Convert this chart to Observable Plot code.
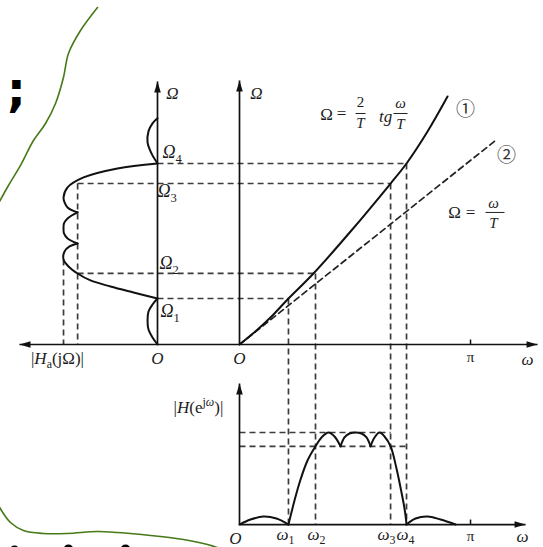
<!DOCTYPE html>
<html>
<head>
<meta charset="utf-8">
<script src="https://cdn.jsdelivr.net/npm/d3@7"></script>
<script src="https://cdn.jsdelivr.net/npm/@observablehq/plot@0.6"></script>
<style>
  html, body { margin: 0; padding: 0; background: #fff; overflow: hidden; }
  #chart svg { display: block; }
</style>
</head>
<body>
<div id="chart"></div>
<script>
const PI = Math.PI;

// Digital band edges ω1..ω4 (as fractions of π) and the prewarped analog edges Ω1..Ω4
const edgeNames = ["1", "2", "3", "4"];
const omegaEdges = [0.212, 0.329, 0.654, 0.723].map(f => f * PI);
const OmegaEdges = [0.785, 1.212, 2.747, 3.089];

// Passband ripple: peaks at 1, cusps at 1 − δ
const rippleTop = 1;
const rippleFloor = 0.85;
const OmegaFirstPeak = 1.451;

// Curve ①: Ω = (2/T)·tg(ω/2), samples (ω, Ω)
const warpW = [0, 0.231, 0.449, 0.666, 1.006, 1.510, 2.054, 2.271, 2.557, 2.829];
const warpOmega = [0, 0.239, 0.495, 0.785, 1.212, 1.928, 2.747, 3.089, 3.635, 4.232];

// Line ②: Ω = ω/T with T = 1, drawn up to this ω
const linearEnd = 3.495;

// Analog magnitude |Ha(jΩ)| as pieces between cusps: [Ω, |Ha|]
const analogPieces = [
  [[0, 0], [0.120, 0.053], [0.256, 0.096], [0.410, 0.106], [0.563, 0.096], [0.683, 0.053], [0.785, 0]],
  [[0.785, 0], [0.888, 0.255], [0.990, 0.500], [1.093, 0.713], [1.212, 0.85], [1.332, 0.947], [1.451, 1], [1.588, 0.989], [1.673, 0.936], [1.724, 0.85]],
  [[1.724, 0.85], [1.810, 0.957], [1.895, 0.995], [1.981, 1], [2.066, 0.995], [2.151, 0.957], [2.254, 0.85]],
  [[2.254, 0.85], [2.339, 0.957], [2.424, 0.989], [2.510, 1], [2.681, 0.957], [2.851, 0.787], [3.005, 0.426], [3.089, 0]],
  [[3.089, 0], [3.261, 0.064], [3.449, 0.106], [3.637, 0.096], [3.773, 0.053], [3.859, 0]]
];

// Digital magnitude |H(e^jω)| as pieces between cusps: [ω, |H|]
const digitalPieces = [
  [[0, 0], [0.150, 0.054], [0.326, 0.087], [0.503, 0.065], [0.666, 0]],
  [[0.666, 0], [0.748, 0.261], [0.830, 0.489], [0.925, 0.696], [1.034, 0.85], [1.115, 0.946], [1.210, 1], [1.292, 0.957], [1.374, 0.85]],
  [[1.374, 0.85], [1.428, 0.946], [1.496, 0.989], [1.578, 1], [1.659, 0.989], [1.727, 0.946], [1.782, 0.85]],
  [[1.782, 0.85], [1.836, 0.946], [1.904, 1], [1.972, 0.957], [2.055, 0.85], [2.135, 0.609], [2.203, 0.348], [2.244, 0.174], [2.271, 0]],
  [[2.271, 0], [2.394, 0.065], [2.557, 0.087], [2.734, 0.054], [2.938, 0]]
];

// Hand-drawn green strokes in the margins, (ω, Ω) plane
const inkTop = [[-1.931, 5.751], [-2.162, 5.358], [-2.326, 4.966], [-2.394, 4.556], [-2.502, 4.113], [-2.638, 3.771], [-2.802, 3.481], [-2.978, 3.055], [-3.142, 2.713], [-3.278, 2.406]];
const inkBottom = [[-3.278, -2.747], [-3.114, -3.038], [-2.938, -3.174], [-2.666, -3.225], [-2.339, -3.225], [-1.931, -3.191], [-1.659, -3.208], [-1.210, -3.259], [-0.762, -3.328], [-0.435, -3.413], [-0.231, -3.498]];

// ---- layout of the three panels in one shared (ω, Ω) plane ----
const X_DOMAIN = [-3.250, 4.134];
const Y_DOMAIN = [-3.464, 5.870];
const W = 543, H = 547;
const PX_X = W / (X_DOMAIN[1] - X_DOMAIN[0]);
const PX_Y = H / (Y_DOMAIN[1] - Y_DOMAIN[0]);
const leftAxis = -1.115, leftScale = 1.278;   // |Ha| grows leftward from the left Ω axis
const lowAxis = -3.072, lowScale = 1.570;     // |H| grows upward in the lower panel
const ampX = a => leftAxis - a * leftScale;
const ampY = a => lowAxis + a * lowScale;
const nudge = (x, y, dx, dy) => ({x: x + dx / PX_X, y: y - dy / PX_Y});

const [w1, w2, w3, w4] = omegaEdges;
const [O1, O2, O3, O4] = OmegaEdges;

// axis segments and their arrow tips
const axisTop = {left: -2.992, right: 4.053, up: 4.505, upLeft: 4.488};
const axisLow = {right: 3.89, up: -0.666};
const axisLines = [
  {x1: axisTop.left, y1: 0, x2: axisTop.right, y2: 0},
  {x1: leftAxis, y1: 0, x2: leftAxis, y2: axisTop.upLeft},
  {x1: 0, y1: 0, x2: 0, y2: axisTop.up},
  {x1: 0, y1: lowAxis, x2: 0, y2: axisLow.up},
  {x1: 0, y1: lowAxis, x2: axisLow.right, y2: lowAxis}
];
const tipsLeft = [{x: axisTop.left, y: 0}];
const tipsRight = [{x: axisTop.right, y: 0}, {x: axisLow.right, y: lowAxis}];
const tipsUp = [{x: leftAxis, y: axisTop.upLeft}, {x: 0, y: axisTop.up}, {x: 0, y: axisLow.up}];

// filled arrowhead with its tip at the symbol origin
const head = (dx, dy) => ({
  draw(ctx) {
    const L = 11, Wd = 3.3, px = -dy, py = dx;
    ctx.moveTo(0, 0);
    ctx.lineTo(-dx * L + px * Wd, -dy * L + py * Wd);
    ctx.lineTo(-dx * L - px * Wd, -dy * L - py * Wd);
    ctx.closePath();
  }
});

// dashed construction lines
const guides = [
  {x1: ampX(0), y1: O4, x2: w4, y2: O4},
  {x1: ampX(rippleFloor), y1: O3, x2: w3, y2: O3},
  {x1: ampX(rippleFloor), y1: O2, x2: w2, y2: O2},
  {x1: ampX(0), y1: O1, x2: w1, y2: O1},
  ...omegaEdges.map((w, i) => ({x1: w, y1: OmegaEdges[i], x2: w, y2: ampY(0)})),
  {x1: ampX(rippleTop), y1: OmegaFirstPeak, x2: ampX(rippleTop), y2: 0},
  {x1: ampX(rippleFloor), y1: O3, x2: ampX(rippleFloor), y2: 0},
  {x1: 0, y1: ampY(rippleTop), x2: w3, y2: ampY(rippleTop)},
  {x1: 0, y1: ampY(rippleFloor), x2: w4, y2: ampY(rippleFloor)}
];
const piTicks = [
  {x1: PI, y1: 0, x2: PI, y2: 5 / PX_Y},
  {x1: PI, y1: lowAxis, x2: PI, y2: lowAxis + 5 / PX_Y}
];

const analogRows = analogPieces.flatMap((p, k) => p.map(([Om, a]) => ({k, x: ampX(a), y: Om})));
const digitalRows = digitalPieces.flatMap((p, k) => p.map(([w, a]) => ({k, x: w, y: ampY(a)})));
const warpRows = warpW.map((w, i) => ({x: w, y: warpOmega[i]}));
const linearRows = [{x: 0, y: 0}, {x: linearEnd, y: linearEnd}];

// ---- rich text: tspans for italics, subscripts and superscripts ----
const SERIF = "Liberation Serif";
const richRegistry = new Map();
let richCount = 0;
function richText(items, options) {
  const rows = items.map(d => {
    const key = "\u2063" + (richCount++);
    richRegistry.set(key, {parts: d.parts, size: options.fontSize});
    return {...d, key};
  });
  return Plot.text(rows, {x: "x", y: "y", text: "key", fill: "#1c1c1c", fontFamily: SERIF, ...options});
}
function applyRich(svg) {
  for (const el of svg.querySelectorAll("text")) {
    const spec = richRegistry.get(el.textContent);
    if (!spec) continue;
    el.textContent = "";
    let shift = 0;
    for (const [s, kind] of spec.parts) {
      const t = document.createElementNS("http://www.w3.org/2000/svg", "tspan");
      t.textContent = s;
      const sub = kind.includes("sub"), sup = kind.includes("sup");
      const target = sub ? 0.24 * spec.size : sup ? -0.4 * spec.size : 0;
      if (target !== shift) { t.setAttribute("dy", target - shift); shift = target; }
      if (sub || sup) t.setAttribute("font-size", spec.size * 0.7);
      t.setAttribute("font-style", kind.includes("i") ? "italic" : "normal");
      t.setAttribute("font-family", SERIF);
      el.appendChild(t);
    }
  }
}

const it = s => [[s, "i"]];
const big = [
  {...nudge(leftAxis, 0, 0, 14), parts: it("O")},
  {...nudge(0, 0, 0, 14), parts: it("O")},
  {...nudge(0, lowAxis, -4, 14), parts: it("O")},
  {...nudge(leftAxis, axisTop.upLeft, 15, 12), parts: it("Ω")},
  {...nudge(0, axisTop.up, 17, 13), parts: it("Ω")},
  {...nudge(axisTop.right, 0, -10, 15), parts: it("ω")},
  {...nudge(axisLow.right, lowAxis, -3, 12), parts: it("ω")},
  {...nudge(-2.475, 0, 0, 14), parts: [["|", "r"], ["H", "i"], ["a", "sub"], ["(jΩ)|", "r"]]},
  {x: -0.558, y: -1.075, parts: [["|", "r"], ["H", "i"], ["(e", "r"], ["j", "sup"], ["ω", "sup i"], [")|", "r"]]},
  ...omegaEdges.map((w, i) => ({...nudge(w, lowAxis, [-3, 1, -4, -1][i], 10), parts: [["ω", "i"], [edgeNames[i], "sub"]]})),
  // formula of curve ①
  {x: 1.183, y: 3.925, parts: [["Ω", "r"]]},
  {x: 1.387, y: 3.942, parts: [["=", "r"]]},
  {x: 1.986, y: 3.891, parts: [["tg", "i"]]},
  // formula of line ②
  {x: 2.924, y: 2.253, parts: [["Ω", "r"]]},
  {x: 3.142, y: 2.253, parts: [["=", "r"]]}
];
const OmegaLabelShift = [[3, 13], [2, -10], [0, 8], [5, -11]];
const edgeOmegaLabels = OmegaEdges.map((Om, i) => ({
  ...nudge(leftAxis, Om, OmegaLabelShift[i][0], OmegaLabelShift[i][1]),
  parts: [["Ω", "i"], [edgeNames[i], "sub"]]
}));
const small = [
  {...nudge(PI, 0, 0, 13), parts: [["π", "r"]]},
  {...nudge(PI, lowAxis, 0, 12), parts: [["π", "r"]]},
  {x: 1.646, y: 4.130, parts: [["2", "r"]]},
  {x: 1.646, y: 3.771, parts: [["T", "i"]]},
  {x: 2.190, y: 4.113, parts: [["ω", "i"]]},
  {x: 2.190, y: 3.754, parts: [["T", "i"]]},
  {x: 3.454, y: 2.406, parts: [["ω", "i"]]},
  {x: 3.454, y: 2.065, parts: [["T", "i"]]}
];
const fractionBars = [
  {x1: 1.578, x2: 1.714, y1: 3.942, y2: 3.942},
  {x1: 2.094, x2: 2.285, y1: 3.942, y2: 3.942},
  {x1: 3.346, x2: 3.604, y1: 2.253, y2: 2.253}
];
const curveTags = [{x: 3.074, y: 4.010, t: "①"}, {x: 3.631, y: 3.225, t: "②"}];

const ink = "#111";
const dash = {stroke: "#3c3c3c", strokeWidth: 1.7, strokeDasharray: "6,4"};

const chart = Plot.plot({
  width: W,
  height: H,
  margin: 0,
  x: {domain: X_DOMAIN, axis: null},
  y: {domain: Y_DOMAIN, axis: null},
  style: {background: "#fff", fontFamily: SERIF},
  marks: [
    // margin ink
    Plot.line(inkTop, {x: d => d[0], y: d => d[1], curve: "catmull-rom", stroke: "#467a18", strokeWidth: 1.6}),
    Plot.line(inkBottom, {x: d => d[0], y: d => d[1], curve: "catmull-rom", stroke: "#467a18", strokeWidth: 1.6}),
    Plot.text([{x: -3.033, y: 4.334}], {x: "x", y: "y", text: () => ";", fontSize: 48, fontWeight: "bold", fontFamily: "DejaVu Sans", fill: "#000"}),
    Plot.dot([[-3.060, -3.515], [-2.326, -3.50], [-1.550, -3.50]], {x: d => d[0], y: d => d[1], r: 5, fill: "#000"}),

    // construction lines
    Plot.link(guides, {x1: "x1", y1: "y1", x2: "x2", y2: "y2", ...dash}),
    Plot.line(linearRows, {x: "x", y: "y", stroke: "#222", strokeWidth: 1.7, strokeDasharray: "6,4"}),

    // axes
    Plot.link(axisLines, {x1: "x1", y1: "y1", x2: "x2", y2: "y2", stroke: ink, strokeWidth: 1.7}),
    Plot.link(piTicks, {x1: "x1", y1: "y1", x2: "x2", y2: "y2", stroke: ink, strokeWidth: 1.5}),
    Plot.dot(tipsLeft, {x: "x", y: "y", symbol: head(-1, 0), fill: ink, stroke: "none"}),
    Plot.dot(tipsRight, {x: "x", y: "y", symbol: head(1, 0), fill: ink, stroke: "none"}),
    Plot.dot(tipsUp, {x: "x", y: "y", symbol: head(0, -1), fill: ink, stroke: "none"}),

    // responses and the frequency warping curve
    Plot.line(analogRows, {x: "x", y: "y", z: "k", curve: "catmull-rom", stroke: ink, strokeWidth: 2}),
    Plot.line(digitalRows, {x: "x", y: "y", z: "k", curve: "catmull-rom", stroke: ink, strokeWidth: 2}),
    Plot.line(warpRows, {x: "x", y: "y", curve: "catmull-rom", stroke: ink, strokeWidth: 2}),

    // labels
    Plot.link(fractionBars, {x1: "x1", y1: "y1", x2: "x2", y2: "y2", stroke: "#222", strokeWidth: 1}),
    richText(big, {fontSize: 17}),
    richText(edgeOmegaLabels, {fontSize: 18, textAnchor: "start"}),
    richText(small, {fontSize: 15}),
    Plot.text(curveTags, {x: "x", y: "y", text: "t", fontSize: 19, fontFamily: "Noto Sans CJK SC", fill: "#333"})
  ]
});

applyRich(chart);
document.getElementById("chart").appendChild(chart);
</script>
</body>
</html>
